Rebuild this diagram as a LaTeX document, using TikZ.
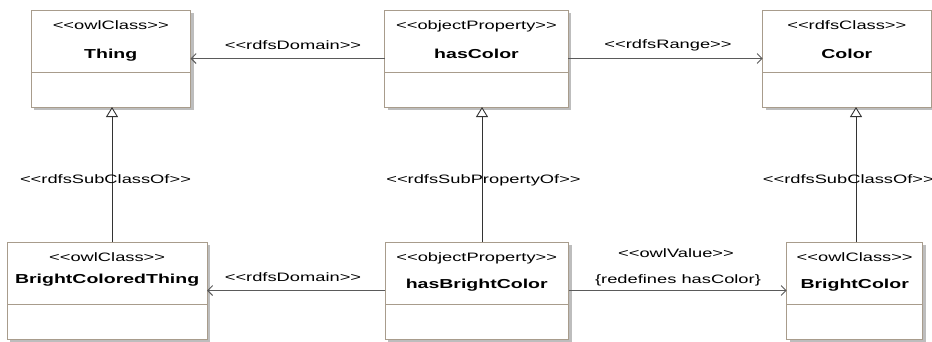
\documentclass[tikz,border=0pt]{standalone}
\usepackage{fontspec}
\setmainfont{Liberation Sans}[FakeStretch=1.5]
\usetikzlibrary{arrows.meta}
\definecolor{boxedge}{HTML}{A89C8C}
\definecolor{shadowgray}{HTML}{BDBDBD}
\definecolor{linegray}{HTML}{5A5A5A}
\newcommand{\stereofont}{\fontsize{12.2}{14}\selectfont}
\newcommand{\namefont}{\fontsize{13}{15}\selectfont\bfseries}
\newcommand{\stt}[1]{<{}<#1>{}>}
% \umlbox{name}{left}{top}{right}{bottom}{stereotype}{title}{title baseline offset}
\newcommand{\umlbox}[8]{%
  \fill[shadowgray] (#2+3,#3+3) rectangle (#4+3,#5+3);
  \node[umlrect, minimum width={#4-#2}, minimum height={#5-#3}] (#1) at ({(#2+#4)/2},{(#3+#5)/2}) {};
  \draw[divider] (#2,#3+62) -- (#4,#3+62);
  \node[stereo] (#1-st) at ({(#2+#4)/2},#3+19.5) {\stt{#6}};
  \node[umlname] (#1-nm) at ({(#2+#4)/2},#3+#8) {#7};
}
\begin{document}
\begin{tikzpicture}[x=1pt,y=-1pt,
  umlrect/.style={draw=boxedge, line width=1pt, fill=white, inner sep=0pt, outer sep=0pt},
  divider/.style={draw=boxedge, line width=1pt},
  stereo/.style={anchor=base, inner sep=0pt, font=\stereofont},
  umlname/.style={anchor=base, inner sep=0pt, font=\namefont},
  lbl/.style={anchor=base, inner sep=0pt, font=\stereofont},
  assoc/.style={draw=linegray, line width=1.1pt, -{Straight Barb[length=5pt,width=10pt,line width=0.9pt]}},
  gen/.style={draw=black!80, line width=0.9pt, -{Triangle[open, length=10pt, width=12pt, fill=white]}}
]
\useasboundingbox (0,0) rectangle (932,341);

\umlbox{thing}{31}{10}{190.5}{107}{owlClass}{Thing}{48}
\umlbox{hascolor}{384.7}{10}{568.3}{107}{objectProperty}{hasColor}{48}
\umlbox{color}{762.7}{10}{931}{107}{rdfsClass}{Color}{48}
\umlbox{bct}{7.3}{242}{207}{339}{owlClass}{BrightColoredThing}{41}
\umlbox{hbc}{385}{242}{568.5}{339}{objectProperty}{hasBrightColor}{46}
\umlbox{bc}{786.7}{242}{922.7}{339}{owlClass}{BrightColor}{46}

% horizontal associations
\draw[assoc] (hascolor.west) -- (thing.east);
\draw[assoc] (hascolor.east) -- (color.west);
\draw[assoc] (hbc.west) -- (bct.east);
\draw[assoc] (hbc.east) -- (bc.west);

\node[lbl] (l1) at (293,49) {\stt{rdfsDomain}};
\node[lbl] (l2) at (668,48) {\stt{rdfsRange}};
\node[lbl] (l3) at (293,281) {\stt{rdfsDomain}};
\node[lbl] (l4) at (676,257) {\stt{owlValue}};
\node[lbl] (l5) at (678,283) {\{redefines hasColor\}};

% generalizations
\coordinate (g1) at (112,0);
\coordinate (g2) at (482,0);
\coordinate (g3) at (856,0);
\draw[gen] (bct.north -| g1) -- (thing.south -| g1);
\draw[gen] (hbc.north -| g2) -- (hascolor.south -| g2);
\draw[gen] (bc.north -| g3) -- (color.south -| g3);

\node[lbl] (s1) at (105.5,183) {\stt{rdfsSubClassOf}};
\node[lbl] (s2) at (483.5,183) {\stt{rdfsSubPropertyOf}};
\node[lbl, anchor=base west] (s3) at (762.7,183) {\stt{rdfsSubClassOf}};
\end{tikzpicture}
\end{document}
